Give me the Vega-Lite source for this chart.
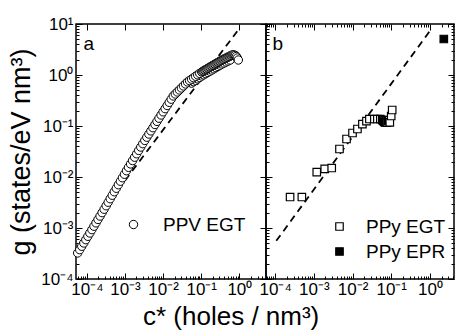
{
  "$schema": "https://vega.github.io/schema/vega-lite/v6.json",
  "padding": {"left": 7, "top": 14, "right": 0, "bottom": 0},
  "bounds": "flush",
  "spacing": 0,
  "config": {
    "font": "Liberation Sans",
    "view": {"stroke": "black", "strokeWidth": 1.5},
    "axis": {"domain": false, "grid": false, "tickColor": "black", "tickWidth": 1, "labelColor": "black", "labelFontSize": 17, "titleColor": "black", "titleFontWeight": "normal"},
    "legend": {"labelFontSize": 19, "labelColor": "black"},
    "title": {"color": "black", "fontWeight": "normal"}
  },
  "title": {"text": "c* (holes / nm³)", "orient": "bottom", "anchor": "middle", "frame": "bounds", "fontSize": 26, "offset": 3},
  "datasets": {
    "ppv": [
      {"c": 0.05585, "g": 0.6924, "series": "PPV EGT"},
      {"c": 0.0631, "g": 0.7387, "series": "PPV EGT"},
      {"c": 0.0713, "g": 0.7875, "series": "PPV EGT"},
      {"c": 0.0807, "g": 0.84, "series": "PPV EGT"},
      {"c": 0.0912, "g": 0.8962, "series": "PPV EGT"},
      {"c": 0.103, "g": 0.9559, "series": "PPV EGT"},
      {"c": 0.1166, "g": 1.009, "series": "PPV EGT"},
      {"c": 0.1318, "g": 1.065, "series": "PPV EGT"},
      {"c": 0.1491, "g": 1.124, "series": "PPV EGT"},
      {"c": 0.1685, "g": 1.187, "series": "PPV EGT"},
      {"c": 0.1905, "g": 1.253, "series": "PPV EGT"},
      {"c": 0.2154, "g": 1.323, "series": "PPV EGT"},
      {"c": 0.2436, "g": 1.397, "series": "PPV EGT"},
      {"c": 0.2754, "g": 1.474, "series": "PPV EGT"},
      {"c": 0.3114, "g": 1.556, "series": "PPV EGT"},
      {"c": 0.3521, "g": 1.643, "series": "PPV EGT"},
      {"c": 0.3981, "g": 1.719, "series": "PPV EGT"},
      {"c": 0.4501, "g": 1.798, "series": "PPV EGT"},
      {"c": 0.5089, "g": 1.881, "series": "PPV EGT"},
      {"c": 0.5754, "g": 1.968, "series": "PPV EGT"},
      {"c": 5.75e-5, "g": 3.24e-4, "series": "PPV EGT"},
      {"c": 6.5e-5, "g": 3.76e-4, "series": "PPV EGT"},
      {"c": 7.36e-5, "g": 4.38e-4, "series": "PPV EGT"},
      {"c": 8.32e-5, "g": 5.08e-4, "series": "PPV EGT"},
      {"c": 9.4e-5, "g": 5.9e-4, "series": "PPV EGT"},
      {"c": 1.064e-4, "g": 6.87e-4, "series": "PPV EGT"},
      {"c": 1.202e-4, "g": 7.98e-4, "series": "PPV EGT"},
      {"c": 1.358e-4, "g": 9.29e-4, "series": "PPV EGT"},
      {"c": 1.538e-4, "g": 1.084e-3, "series": "PPV EGT"},
      {"c": 1.738e-4, "g": 1.262e-3, "series": "PPV EGT"},
      {"c": 1.963e-4, "g": 1.469e-3, "series": "PPV EGT"},
      {"c": 2.223e-4, "g": 1.714e-3, "series": "PPV EGT"},
      {"c": 2.512e-4, "g": 2.0e-3, "series": "PPV EGT"},
      {"c": 2.838e-4, "g": 2.333e-3, "series": "PPV EGT"},
      {"c": 3.214e-4, "g": 2.729e-3, "series": "PPV EGT"},
      {"c": 3.631e-4, "g": 3.199e-3, "series": "PPV EGT"},
      {"c": 4.102e-4, "g": 3.75e-3, "series": "PPV EGT"},
      {"c": 4.645e-4, "g": 4.385e-3, "series": "PPV EGT"},
      {"c": 5.248e-4, "g": 5.14e-3, "series": "PPV EGT"},
      {"c": 5.929e-4, "g": 6.01e-3, "series": "PPV EGT"},
      {"c": 6.714e-4, "g": 7.05e-3, "series": "PPV EGT"},
      {"c": 7.586e-4, "g": 8.26e-3, "series": "PPV EGT"},
      {"c": 8.57e-4, "g": 9.66e-3, "series": "PPV EGT"},
      {"c": 9.7e-4, "g": 0.01132, "series": "PPV EGT"},
      {"c": 1.096e-3, "g": 0.01327, "series": "PPV EGT"},
      {"c": 1.239e-3, "g": 0.01549, "series": "PPV EGT"},
      {"c": 1.403e-3, "g": 0.01803, "series": "PPV EGT"},
      {"c": 1.585e-3, "g": 0.02099, "series": "PPV EGT"},
      {"c": 1.791e-3, "g": 0.02443, "series": "PPV EGT"},
      {"c": 2.028e-3, "g": 0.02851, "series": "PPV EGT"},
      {"c": 2.291e-3, "g": 0.03319, "series": "PPV EGT"},
      {"c": 2.588e-3, "g": 0.03864, "series": "PPV EGT"},
      {"c": 2.931e-3, "g": 0.04498, "series": "PPV EGT"},
      {"c": 3.311e-3, "g": 0.0521, "series": "PPV EGT"},
      {"c": 3.741e-3, "g": 0.0603, "series": "PPV EGT"},
      {"c": 4.236e-3, "g": 0.0695, "series": "PPV EGT"},
      {"c": 4.786e-3, "g": 0.0802, "series": "PPV EGT"},
      {"c": 5.408e-3, "g": 0.0925, "series": "PPV EGT"},
      {"c": 6.124e-3, "g": 0.1069, "series": "PPV EGT"},
      {"c": 6.918e-3, "g": 0.1233, "series": "PPV EGT"},
      {"c": 7.816e-3, "g": 0.1422, "series": "PPV EGT"},
      {"c": 8.85e-3, "g": 0.1643, "series": "PPV EGT"},
      {"c": 0.01, "g": 0.1897, "series": "PPV EGT"},
      {"c": 0.0113, "g": 0.2188, "series": "PPV EGT"},
      {"c": 0.01279, "g": 0.2523, "series": "PPV EGT"},
      {"c": 0.01445, "g": 0.2911, "series": "PPV EGT"},
      {"c": 0.01633, "g": 0.3357, "series": "PPV EGT"},
      {"c": 0.01849, "g": 0.3873, "series": "PPV EGT"},
      {"c": 0.02089, "g": 0.4241, "series": "PPV EGT"},
      {"c": 0.0236, "g": 0.4642, "series": "PPV EGT"},
      {"c": 0.02673, "g": 0.5082, "series": "PPV EGT"},
      {"c": 0.0302, "g": 0.5563, "series": "PPV EGT"},
      {"c": 0.03412, "g": 0.609, "series": "PPV EGT"},
      {"c": 0.03864, "g": 0.6668, "series": "PPV EGT"},
      {"c": 0.04365, "g": 0.7298, "series": "PPV EGT"},
      {"c": 0.04932, "g": 0.7778, "series": "PPV EGT"},
      {"c": 0.05585, "g": 0.8296, "series": "PPV EGT"},
      {"c": 0.0631, "g": 0.8848, "series": "PPV EGT"},
      {"c": 0.0713, "g": 0.9434, "series": "PPV EGT"},
      {"c": 0.0807, "g": 1.006, "series": "PPV EGT"},
      {"c": 0.0912, "g": 1.073, "series": "PPV EGT"},
      {"c": 0.103, "g": 1.145, "series": "PPV EGT"},
      {"c": 0.1096, "g": 1.177, "series": "PPV EGT"},
      {"c": 0.1166, "g": 1.209, "series": "PPV EGT"},
      {"c": 0.124, "g": 1.242, "series": "PPV EGT"},
      {"c": 0.1318, "g": 1.276, "series": "PPV EGT"},
      {"c": 0.1402, "g": 1.311, "series": "PPV EGT"},
      {"c": 0.1491, "g": 1.347, "series": "PPV EGT"},
      {"c": 0.1585, "g": 1.384, "series": "PPV EGT"},
      {"c": 0.1685, "g": 1.422, "series": "PPV EGT"},
      {"c": 0.1792, "g": 1.461, "series": "PPV EGT"},
      {"c": 0.1905, "g": 1.501, "series": "PPV EGT"},
      {"c": 0.2026, "g": 1.542, "series": "PPV EGT"},
      {"c": 0.2154, "g": 1.585, "series": "PPV EGT"},
      {"c": 0.2291, "g": 1.628, "series": "PPV EGT"},
      {"c": 0.2436, "g": 1.673, "series": "PPV EGT"},
      {"c": 0.259, "g": 1.719, "series": "PPV EGT"},
      {"c": 0.2754, "g": 1.766, "series": "PPV EGT"},
      {"c": 0.2929, "g": 1.815, "series": "PPV EGT"},
      {"c": 0.3114, "g": 1.865, "series": "PPV EGT"},
      {"c": 0.3311, "g": 1.916, "series": "PPV EGT"},
      {"c": 0.3521, "g": 1.968, "series": "PPV EGT"},
      {"c": 0.3744, "g": 2.013, "series": "PPV EGT"},
      {"c": 0.3981, "g": 2.059, "series": "PPV EGT"},
      {"c": 0.4233, "g": 2.106, "series": "PPV EGT"},
      {"c": 0.4501, "g": 2.154, "series": "PPV EGT"},
      {"c": 0.4786, "g": 2.203, "series": "PPV EGT"},
      {"c": 0.5089, "g": 2.254, "series": "PPV EGT"},
      {"c": 0.5412, "g": 2.305, "series": "PPV EGT"},
      {"c": 0.5754, "g": 2.358, "series": "PPV EGT"},
      {"c": 0.6119, "g": 2.412, "series": "PPV EGT"},
      {"c": 0.6506, "g": 2.467, "series": "PPV EGT"},
      {"c": 0.6918, "g": 2.467, "series": "PPV EGT"},
      {"c": 0.7356, "g": 2.467, "series": "PPV EGT"},
      {"c": 0.7822, "g": 2.412, "series": "PPV EGT"},
      {"c": 0.8318, "g": 2.305, "series": "PPV EGT"},
      {"c": 0.8844, "g": 2.154, "series": "PPV EGT"},
      {"c": 0.9404, "g": 1.968, "series": "PPV EGT"}
    ],
    "ppy": [
      {"c": 2.43e-4, "g": 4.05e-3, "series": "PPy EGT"},
      {"c": 4.9e-4, "g": 4.05e-3, "series": "PPy EGT"},
      {"c": 1.19e-3, "g": 0.0125, "series": "PPy EGT"},
      {"c": 1.91e-3, "g": 0.0144, "series": "PPy EGT"},
      {"c": 2.9e-3, "g": 0.015, "series": "PPy EGT"},
      {"c": 4.6e-3, "g": 0.0354, "series": "PPy EGT"},
      {"c": 7.0e-3, "g": 0.0556, "series": "PPy EGT"},
      {"c": 0.01, "g": 0.0729, "series": "PPy EGT"},
      {"c": 0.0134, "g": 0.0873, "series": "PPy EGT"},
      {"c": 0.018, "g": 0.109, "series": "PPy EGT"},
      {"c": 0.0229, "g": 0.125, "series": "PPy EGT"},
      {"c": 0.0273, "g": 0.137, "series": "PPy EGT"},
      {"c": 0.0366, "g": 0.137, "series": "PPy EGT"},
      {"c": 0.0438, "g": 0.137, "series": "PPy EGT"},
      {"c": 0.0523, "g": 0.137, "series": "PPy EGT"},
      {"c": 0.0588, "g": 0.131, "series": "PPy EGT"},
      {"c": 0.062, "g": 0.126, "series": "PPy EGT"},
      {"c": 0.066, "g": 0.12, "series": "PPy EGT"},
      {"c": 0.07, "g": 0.118, "series": "PPy EGT"},
      {"c": 0.0745, "g": 0.12, "series": "PPy EGT"},
      {"c": 0.078, "g": 0.116, "series": "PPy EGT"},
      {"c": 0.084, "g": 0.125, "series": "PPy EGT"},
      {"c": 0.089, "g": 0.131, "series": "PPy EGT"},
      {"c": 0.092, "g": 0.118, "series": "PPy EGT"},
      {"c": 0.1, "g": 0.157, "series": "PPy EGT"},
      {"c": 0.106, "g": 0.206, "series": "PPy EGT"},
      {"c": 2.29, "g": 5.08, "series": "PPy EPR"}
    ],
    "lineA": [{"c": 0.001, "g": 0.0085}, {"c": 0.88, "g": 7.2}],
    "lineB": [{"c": 1.07e-4, "g": 5.6e-4}, {"c": 1.0, "g": 7.3}]
  },
  "resolve": {"scale": {"x": "independent", "y": "independent", "fill": "independent"}, "legend": {"fill": "independent"}},
  "hconcat": [
    {
      "width": 190,
      "height": 255,
      "resolve": {"axis": {"x": "independent", "y": "independent"}},
      "layer": [
        {
          "data": {"name": "lineA"},
          "mark": {"type": "line", "color": "black", "strokeDash": [7, 5], "strokeWidth": 1.8},
          "encoding": {
            "x": {"field": "c", "type": "quantitative", "scale": {"type": "log", "domain": [5.2e-5, 5.0]},
              "axis": {"orient": "top", "values": [0.0001, 0.001, 0.01, 0.1, 1], "labels": false, "tickSize": -6,
                "title": "a", "titleX": 7, "titleY": 25, "titleAlign": "left", "titleAnchor": "start", "titleBaseline": "alphabetic", "titleFontSize": 19}},
            "y": {"field": "g", "type": "quantitative", "scale": {"type": "log", "domain": [0.0001, 10]},
              "axis": {"orient": "right", "values": [0.0001, 0.001, 0.01, 0.1, 1, 10], "labels": false, "tickSize": -6, "title": null}}
          }
        },
        {
          "data": {"name": "ppv"},
          "mark": {"type": "point", "shape": "circle", "filled": true, "stroke": "black", "strokeWidth": 1, "size": 70, "opacity": 1},
          "encoding": {
            "x": {"field": "c", "type": "quantitative", "scale": {"type": "log", "domain": [5.2e-5, 5.0]},
              "axis": {"orient": "bottom", "title": null, "labelPadding": 8, "labelFlush": false, "labelOverlap": false,
                "values": [6e-5, 7e-5, 8e-5, 9e-5, 0.0001, 0.0002, 0.0003, 0.0004, 0.0005, 0.0006, 0.0007, 0.0008, 0.0009, 0.001, 0.002, 0.003, 0.004, 0.005, 0.006, 0.007, 0.008, 0.009, 0.01, 0.02, 0.03, 0.04, 0.05, 0.06, 0.07, 0.08, 0.09, 0.1, 0.2, 0.3, 0.4, 0.5, 0.6, 0.7, 0.8, 0.9, 1, 2, 3, 4, 5],
                "labelExpr": "datum.value == 0.0001 ? '10⁻⁴' : datum.value == 0.001 ? '10⁻³' : datum.value == 0.01 ? '10⁻²' : datum.value == 0.1 ? '10⁻¹' : datum.value == 1 ? '10⁰' : datum.value == 10 ? '10¹' : ''",
                "tickSize": {"condition": {"test": "abs(log(datum.value)/LN10 - round(log(datum.value)/LN10)) < 0.001", "value": -6}, "value": -3}}},
            "y": {"field": "g", "type": "quantitative", "scale": {"type": "log", "domain": [0.0001, 10]},
              "axis": {"orient": "left", "title": "g (states/eV nm³)", "titleFontSize": 27, "titlePadding": 5, "labelPadding": 9, "labelFlush": false, "labelOverlap": false,
                "values": [0.0001, 0.0002, 0.0003, 0.0004, 0.0005, 0.0006, 0.0007, 0.0008, 0.0009, 0.001, 0.002, 0.003, 0.004, 0.005, 0.006, 0.007, 0.008, 0.009, 0.01, 0.02, 0.03, 0.04, 0.05, 0.06, 0.07, 0.08, 0.09, 0.1, 0.2, 0.3, 0.4, 0.5, 0.6, 0.7, 0.8, 0.9, 1, 2, 3, 4, 5, 6, 7, 8, 9, 10],
                "labelExpr": "datum.value == 0.0001 ? '10⁻⁴' : datum.value == 0.001 ? '10⁻³' : datum.value == 0.01 ? '10⁻²' : datum.value == 0.1 ? '10⁻¹' : datum.value == 1 ? '10⁰' : datum.value == 10 ? '10¹' : ''",
                "tickSize": {"condition": {"test": "abs(log(datum.value)/LN10 - round(log(datum.value)/LN10)) < 0.001", "value": -6}, "value": -3}}},
            "fill": {"field": "series", "type": "nominal", "scale": {"domain": ["PPV EGT"], "range": ["white"]},
              "legend": {"title": null, "orient": "none", "legendX": 48, "legendY": 191, "symbolType": "circle", "symbolSize": 70, "symbolStrokeColor": "black", "symbolStrokeWidth": 1, "labelOffset": 20, "labelFontSize": 19}}
          }
        }
      ]
    },
    {
      "width": 188,
      "height": 255,
      "resolve": {"axis": {"x": "independent", "y": "independent"}},
      "layer": [
        {
          "data": {"name": "lineB"},
          "mark": {"type": "line", "color": "black", "strokeDash": [7, 5], "strokeWidth": 1.8},
          "encoding": {
            "x": {"field": "c", "type": "quantitative", "scale": {"type": "log", "domain": [5.8e-5, 4.2]},
              "axis": {"orient": "top", "labels": false,
                "title": "b", "titleX": 6, "titleY": 25, "titleAlign": "left", "titleAnchor": "start", "titleBaseline": "alphabetic", "titleFontSize": 19,
                "values": [6e-5, 7e-5, 8e-5, 9e-5, 0.0001, 0.0002, 0.0003, 0.0004, 0.0005, 0.0006, 0.0007, 0.0008, 0.0009, 0.001, 0.002, 0.003, 0.004, 0.005, 0.006, 0.007, 0.008, 0.009, 0.01, 0.02, 0.03, 0.04, 0.05, 0.06, 0.07, 0.08, 0.09, 0.1, 0.2, 0.3, 0.4, 0.5, 0.6, 0.7, 0.8, 0.9, 1, 2, 3, 4],
                "tickSize": {"condition": {"test": "abs(log(datum.value)/LN10 - round(log(datum.value)/LN10)) < 0.001", "value": -6}, "value": -3}}},
            "y": {"field": "g", "type": "quantitative", "scale": {"type": "log", "domain": [0.0001, 10]},
              "axis": {"orient": "right", "labels": false, "title": null,
                "values": [0.0001, 0.0002, 0.0003, 0.0004, 0.0005, 0.0006, 0.0007, 0.0008, 0.0009, 0.001, 0.002, 0.003, 0.004, 0.005, 0.006, 0.007, 0.008, 0.009, 0.01, 0.02, 0.03, 0.04, 0.05, 0.06, 0.07, 0.08, 0.09, 0.1, 0.2, 0.3, 0.4, 0.5, 0.6, 0.7, 0.8, 0.9, 1, 2, 3, 4, 5, 6, 7, 8, 9, 10],
                "tickSize": {"condition": {"test": "abs(log(datum.value)/LN10 - round(log(datum.value)/LN10)) < 0.001", "value": -6}, "value": -3}}}
          }
        },
        {
          "data": {"name": "ppy"},
          "mark": {"type": "point", "shape": "square", "filled": true, "stroke": "black", "strokeWidth": 1.2, "size": 56, "opacity": 1},
          "encoding": {
            "x": {"field": "c", "type": "quantitative", "scale": {"type": "log", "domain": [5.8e-5, 4.2]},
              "axis": {"orient": "bottom", "title": null, "labelPadding": 8, "labelFlush": false, "labelOverlap": false,
                "values": [6e-5, 7e-5, 8e-5, 9e-5, 0.0001, 0.0002, 0.0003, 0.0004, 0.0005, 0.0006, 0.0007, 0.0008, 0.0009, 0.001, 0.002, 0.003, 0.004, 0.005, 0.006, 0.007, 0.008, 0.009, 0.01, 0.02, 0.03, 0.04, 0.05, 0.06, 0.07, 0.08, 0.09, 0.1, 0.2, 0.3, 0.4, 0.5, 0.6, 0.7, 0.8, 0.9, 1, 2, 3, 4],
                "labelExpr": "datum.value == 0.0001 ? '10⁻⁴' : datum.value == 0.001 ? '10⁻³' : datum.value == 0.01 ? '10⁻²' : datum.value == 0.1 ? '10⁻¹' : datum.value == 1 ? '10⁰' : datum.value == 10 ? '10¹' : ''",
                "tickSize": {"condition": {"test": "abs(log(datum.value)/LN10 - round(log(datum.value)/LN10)) < 0.001", "value": -6}, "value": -3}}},
            "y": {"field": "g", "type": "quantitative", "scale": {"type": "log", "domain": [0.0001, 10]},
              "axis": {"orient": "left", "title": null, "labels": false,
                "values": [0.0001, 0.0002, 0.0003, 0.0004, 0.0005, 0.0006, 0.0007, 0.0008, 0.0009, 0.001, 0.002, 0.003, 0.004, 0.005, 0.006, 0.007, 0.008, 0.009, 0.01, 0.02, 0.03, 0.04, 0.05, 0.06, 0.07, 0.08, 0.09, 0.1, 0.2, 0.3, 0.4, 0.5, 0.6, 0.7, 0.8, 0.9, 1, 2, 3, 4, 5, 6, 7, 8, 9, 10],
                "tickSize": {"condition": {"test": "abs(log(datum.value)/LN10 - round(log(datum.value)/LN10)) < 0.001", "value": -6}, "value": -3}}},
            "fill": {"field": "series", "type": "nominal", "scale": {"domain": ["PPy EGT", "PPy EPR"], "range": ["white", "black"]},
              "legend": {"title": null, "orient": "none", "legendX": 64, "legendY": 193, "symbolType": "square", "symbolSize": 56, "symbolStrokeColor": "black", "symbolStrokeWidth": 1.2, "labelOffset": 17, "labelFontSize": 19, "rowPadding": 5}}
          }
        }
      ]
    }
  ]
}
